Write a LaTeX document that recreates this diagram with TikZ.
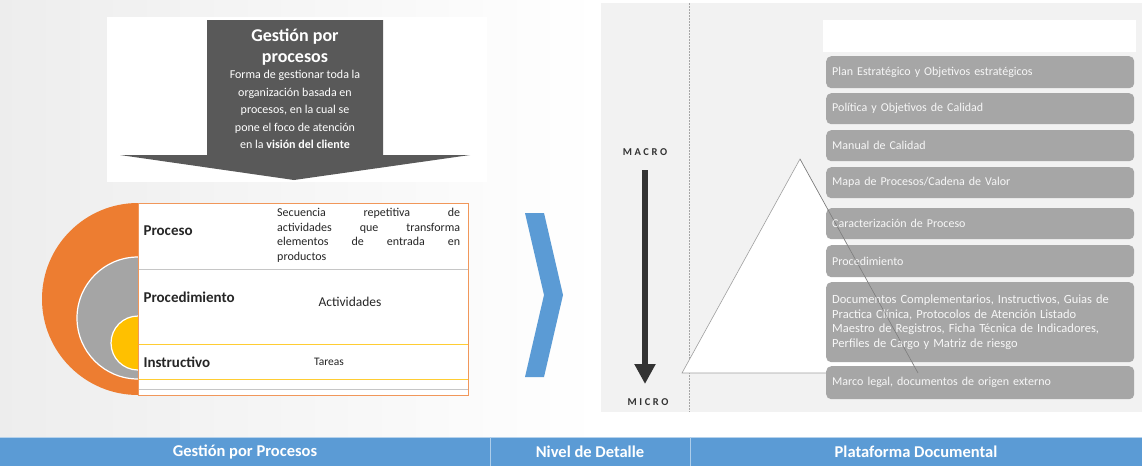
\documentclass[tikz,border=0pt]{standalone}
\usepackage{fontspec}
\setmainfont{Carlito}
\usetikzlibrary{arrows.meta,positioning}
\definecolor{arrowgray}{HTML}{595959}
\definecolor{halforange}{HTML}{ED7D31}
\definecolor{halfgray}{HTML}{A5A5A5}
\definecolor{halfgold}{HTML}{FFC000}
\definecolor{chevblue}{HTML}{5B9BD5}
\definecolor{boxgray}{HTML}{A6A6A6}
\definecolor{panelgray}{HTML}{F2F2F2}
\definecolor{darkink}{HTML}{333333}

\begin{document}
\begin{tikzpicture}[x=1pt,y=-1pt,
    docbox/.style={anchor=north west, fill=boxgray, rounded corners=5pt, minimum width=308pt,
      text width=296pt, align=left, inner xsep=6pt, inner ysep=0pt, text=white!94!gray,
      font=\fontsize{12}{14.5}\selectfont},
    rowhead/.style={anchor=west, text=black!85, font=\fontsize{15}{18}\selectfont\bfseries},
    rowtext/.style={text=black!85},
    scalelbl/.style={text=darkink, font=\fontsize{10.5}{12}\selectfont\bfseries\addfontfeatures{LetterSpace=25}},
    bartext/.style={text=white, font=\fontsize{16.5}{19}\selectfont\bfseries}]
  \useasboundingbox (0,0) rectangle (1142,466);
  \fill[white] (0,0) rectangle (1142,466);
  \shade[left color=gray!14, right color=white] (0,0) rectangle (600,437);
  \fill[panelgray] (601,3) rectangle (1142,412);

  % gestion por procesos
  \fill[white] (107,17) rectangle (487,182);
  \fill[arrowgray] (207,20) -- (383,20) -- (383,155) -- (470,155) -- (294,180)
    -- (120,155) -- (207,155) -- cycle;
  \node[text=white, align=center, font=\fontsize{18}{21}\selectfont\bfseries] (gptitle) at (295,47) {Gestión por\\procesos};
  \node[below=-2pt of gptitle, text=white, align=center, font=\fontsize{12}{17.5}\selectfont] (gpbody)
    {Forma de gestionar toda la\\organización basada en\\procesos, en la cual se\\pone el foco de atención\\en la \textbf{visión del cliente}};

  \fill[halforange] (138,203) arc[start angle=-90, end angle=-270, radius=96];
  \filldraw[fill=halfgray, draw=white, line width=1.2pt] (138,257) arc[start angle=-90, end angle=-270, radius=61];
  \filldraw[fill=halfgold, draw=white, line width=1.2pt] (138,316) arc[start angle=-90, end angle=-270, radius=27];

  \fill[white] (138,203) rectangle (468,395);
  \draw[gray!45] (138,269) -- (468,269);
  \draw[halfgold!80, line width=0.8pt] (138,344) rectangle (468,379);
  \draw[gray!45] (138,389) -- (468,389);
  \draw[halforange!80, line width=0.6pt] (138,203) rectangle (468,395);

  \node[rowhead] (proceso) at (140,231) {Proceso};
  \node[rowhead] (procedimiento) at (140,297) {Procedimiento};
  \node[rowhead] (instructivo) at (140,362) {Instructivo};
  \node[rowtext, anchor=north west, inner sep=0pt, align=left, font=\fontsize{12}{14.7}\selectfont] (secuencia) at (277,208)
    {\makebox[183pt][s]{Secuencia repetitiva de}\\\makebox[183pt][s]{actividades que transforma}\\\makebox[183pt][s]{elementos de entrada en}\\productos};
  \node[rowtext, font=\fontsize{13.5}{16}\selectfont] (actividades) at (350,302) {Actividades};
  \node[rowtext, font=\fontsize{11.5}{14}\selectfont] (tareas) at (329,362) {Tareas};

  \fill[chevblue] (525,213) -- (544,213) -- (563,295) -- (544,377) -- (525,377) -- (544,295) -- cycle;

  % nivel de detalle
  \draw[gray!70, dash pattern=on 1.5pt off 1.5pt] (689,3) -- (689,412);
  \node[scalelbl] (macro) at (645,152) {MACRO};
  \node[scalelbl] (micro) at (648,402) {MICRO};
  \draw[darkink, line width=5.5pt, -{Triangle[width=20pt,length=20pt]}, shorten <=11pt, shorten >=18pt] (macro) -- (macro |- micro);

  % plataforma documental
  \fill[white] (823,20) rectangle (1136,52);
  \filldraw[fill=white, draw=gray!75, line width=0.6pt] (800,159) -- (918,373) -- (682,373) -- cycle;
  \foreach \y/\h/\t [count=\i] in {56/32/{Plan Estratégico y Objetivos estratégicos},
      93/31/{Política y Objetivos de Calidad}, 130/31/{Manual de Calidad},
      167/31/{Mapa de Procesos/Cadena de Valor}, 208/31/{Caracterización de Proceso},
      245/32/{Procedimiento},
      282/80/{\fontsize{12.5}{14.5}\selectfont Documentos Complementarios, Instructivos, Guias de\\Practica Clínica, Protocolos de Atención Listado\\Maestro de Registros, Ficha Técnica de Indicadores,\\Perfiles de Cargo y Matriz de riesgo},
      366/33/{Marco legal, documentos de origen externo}} {
    \node[docbox, minimum height=\h pt] (doc\i) at (826,\y) {\t};
  }
  \draw[black, opacity=0.25, line width=0.6pt] (800,159) -- (918,373);

  % barra inferior
  \fill[chevblue] (0,437) rectangle (1142,466);
  \draw[white!55!chevblue] (0,437) -- (1142,437);
  \draw[white!50!chevblue, line width=1pt] (490,437) -- (490,466) (690,437) -- (690,466);
  \node[bartext] (bargestion) at (245,452) {Gestión por Procesos};
  \node[bartext] (barnivel) at (590,452) {Nivel de Detalle};
  \node[bartext] (barplataforma) at (916,452) {Plataforma Documental};
\end{tikzpicture}
\end{document}
